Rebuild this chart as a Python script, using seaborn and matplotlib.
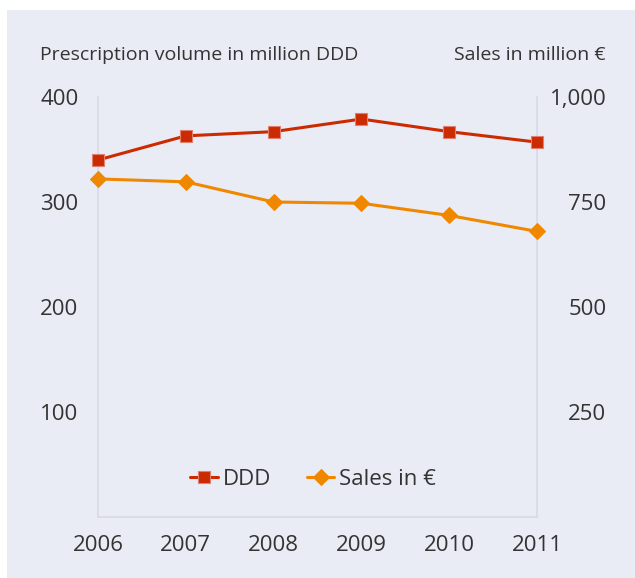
import matplotlib
matplotlib.use("Agg")
import matplotlib.pyplot as plt
import seaborn as sns
import pandas as pd
from matplotlib.patches import Rectangle
from matplotlib.ticker import FuncFormatter

years = [2006, 2007, 2008, 2009, 2010, 2011]
ddd = [340, 363, 367, 379, 367, 357]          # million DDD (left axis)
sales = [805, 798, 750, 747, 718, 680]        # million EUR (right axis)

bg = "#e9ebf5"
txt = "#333333"
red = "#cc2a00"
orange = "#ef8800"

sns.set_theme(style="white")
plt.rcParams["font.family"] = ["Open Sans", "DejaVu Sans"]

df = pd.DataFrame({"year": years, "ddd": ddd, "sales": sales})

fig = plt.figure(figsize=(6.35, 5.78), dpi=100, facecolor="white")
fig.patches.append(Rectangle((7 / 635, 0), 1, 1 - 10 / 578, transform=fig.transFigure,
                             facecolor=bg, edgecolor="none", zorder=-1))
ax = fig.add_axes([98 / 635, 61 / 578, 439 / 635, 420 / 578])
ax.set_facecolor("none")
ax2 = ax.twinx()

sns.lineplot(data=df, x="year", y="ddd", ax=ax, color=red, marker="s", markersize=9,
             markeredgecolor="#e08070", markeredgewidth=0.8, linewidth=2.2, label="DDD",
             legend=False, clip_on=False, zorder=4)
sns.lineplot(data=df, x="year", y="sales", ax=ax2, color=orange, marker="D", markersize=8,
             markeredgecolor=orange, linewidth=2.2, label="Sales in €", legend=False,
             clip_on=False, zorder=4)

ax.set_xlim(2006, 2011)
ax.set_ylim(0, 400)
ax2.set_ylim(0, 1000)
ax.set_xticks(years)
ax.set_yticks([100, 200, 300, 400])
ax2.set_yticks([250, 500, 750, 1000])
ax2.yaxis.set_major_formatter(FuncFormatter(lambda v, p: f"{int(v):,}"))

for a in (ax, ax2):
    a.set_xlabel("")
    a.set_ylabel("")
    a.tick_params(length=0, labelsize=16, labelcolor=txt)
    for s in a.spines.values():
        s.set_visible(False)
for s in ("left", "right", "bottom"):
    ax.spines[s].set_visible(True)
    ax.spines[s].set_color("#d9dae2")
    ax.spines[s].set_linewidth(1.2)
ax.tick_params(axis="y", pad=14)
ax2.tick_params(axis="y", pad=50)
for lab in ax2.get_yticklabels():
    lab.set_horizontalalignment("right")
ax.tick_params(axis="x", pad=13)

fig.text(40 / 635, 1 - 55 / 578, "Prescription volume in million DDD", fontsize=14,
         color=txt, ha="left", va="center")
fig.text(606 / 635, 1 - 55 / 578, "Sales in million €", fontsize=14,
         color=txt, ha="right", va="center")

h1, l1 = ax.get_legend_handles_labels()
h2, l2 = ax2.get_legend_handles_labels()
ax.legend(h1 + h2, l1 + l2, loc="center", bbox_to_anchor=(0.49, 0.09), ncol=2,
          frameon=False, fontsize=16, labelcolor=txt, handlelength=1.25,
          handletextpad=0.2, columnspacing=1.6)

fig.savefig("out.png", dpi=100, facecolor="white")
